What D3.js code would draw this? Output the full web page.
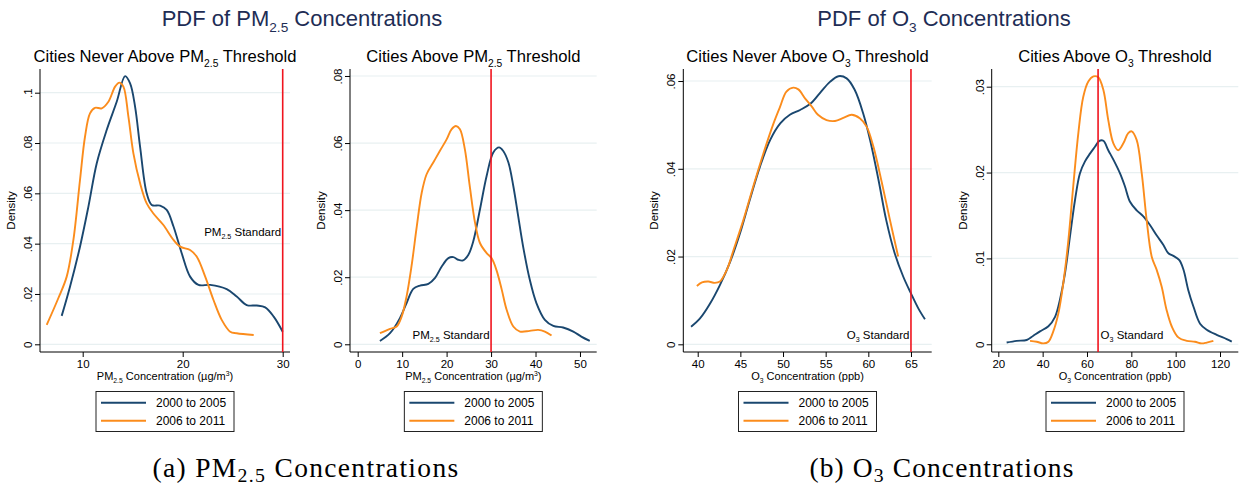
<!DOCTYPE html>
<html><head><meta charset="utf-8">
<script src="https://cdn.jsdelivr.net/npm/d3@7"></script>
<style>body{margin:0;background:#fff;} svg{display:block;}</style>
</head><body>
<svg id="c" width="1241" height="495"></svg>
<script>
// ---------- DATA ----------
const seriesNames = ["2000 to 2005", "2006 to 2011"];

// Panel 1: PM2.5, cities never above threshold
const pm_never_2000 = [[7.9,0.0113],[8.73,0.0229],[9.73,0.0388],[10.57,0.0547],[11.4,0.0719],[12.4,0.0852],[13.4,0.0964],[14.24,0.1066],[14.74,0.1037],[15.24,0.0944],[15.74,0.0785],[16.4,0.06],[16.9,0.0554],[17.74,0.0551],[18.4,0.0534],[19.08,0.0468],[19.9,0.0362],[20.74,0.0269],[21.58,0.0236],[22.75,0.0236],[24.4,0.0219],[25.4,0.019],[26.4,0.0156],[27.4,0.0154],[28.25,0.0147],[29.1,0.011],[30.0,0.005]];
const pm_never_2006 = [[6.4,0.0077],[7.56,0.0183],[8.4,0.0269],[9.07,0.0415],[9.73,0.0653],[10.23,0.0825],[10.73,0.0918],[11.23,0.094],[11.9,0.0938],[12.57,0.0964],[13.24,0.1024],[13.67,0.104],[14.07,0.1024],[14.57,0.0905],[15.07,0.0759],[15.74,0.064],[16.4,0.056],[17.07,0.052],[18.07,0.0474],[19.08,0.0415],[19.74,0.0388],[20.74,0.0375],[21.41,0.0348],[22.25,0.0269],[23.08,0.0176],[23.9,0.0097],[24.75,0.005],[25.4,0.0044],[27.1,0.0037]];

// Panel 2: PM2.5, cities above threshold
const pm_above_2000 = [[5.0,0.001],[7.27,0.0033],[9.5,0.0078],[11.0,0.0123],[12.5,0.0165],[14.0,0.0175],[15.9,0.018],[17.4,0.0198],[18.9,0.0232],[20.4,0.0257],[21.5,0.026],[22.6,0.0252],[23.7,0.025],[24.9,0.0267],[26.0,0.0307],[27.5,0.0402],[29.0,0.0502],[30.5,0.0572],[31.8,0.0587],[32.7,0.0577],[33.9,0.0542],[35.0,0.0472],[36.1,0.0382],[37.2,0.0292],[38.7,0.0193],[40.2,0.0123],[42.1,0.0073],[44.0,0.0055],[46.2,0.005],[48.5,0.0038],[50.3,0.0023],[52.2,0.001]];
const pm_above_2006 = [[5.0,0.0033],[7.27,0.0046],[8.76,0.0053],[9.9,0.0083],[11.0,0.0143],[12.1,0.0232],[13.3,0.0352],[14.4,0.0452],[15.5,0.0507],[17.0,0.0542],[18.5,0.0577],[20.0,0.0611],[21.1,0.0641],[22.1,0.0651],[23.0,0.0641],[24.1,0.0582],[25.2,0.0472],[26.4,0.0362],[27.5,0.0302],[29.0,0.0272],[30.1,0.0257],[31.2,0.0222],[32.4,0.0163],[33.5,0.0103],[35.0,0.0053],[36.5,0.0038],[38.7,0.004],[40.6,0.0043],[42.1,0.0038],[43.6,0.0026]];

// Panel 3: O3, cities never above threshold
const o3_never_2000 = [[39.22,0.004],[40.27,0.0059],[41.45,0.0093],[42.6,0.0135],[43.8,0.0188],[44.96,0.0253],[46.1,0.0329],[47.3,0.0405],[48.5,0.0466],[49.7,0.0504],[50.8,0.0523],[52.0,0.0534],[53.2,0.0548],[54.3,0.0572],[55.5,0.0598],[56.5,0.0611],[57.46,0.0606],[58.4,0.058],[59.4,0.0526],[60.2,0.0466],[61.2,0.0374],[62.1,0.0283],[63.1,0.0207],[64.1,0.0154],[65.0,0.0116],[65.86,0.0082],[66.64,0.0057]];
const o3_never_2006 = [[39.9,0.0133],[40.5,0.0141],[41.25,0.0143],[42.0,0.014],[42.6,0.0143],[43.4,0.0169],[44.2,0.0215],[45.35,0.0283],[46.5,0.0359],[47.7,0.0435],[48.9,0.0504],[49.65,0.0541],[50.4,0.0576],[51.2,0.0585],[51.8,0.0581],[52.6,0.056],[53.4,0.0541],[54.1,0.0523],[55.1,0.0511],[56.1,0.0509],[57.07,0.0516],[58.05,0.0523],[59.0,0.0515],[59.8,0.0496],[60.6,0.045],[61.6,0.0367],[62.54,0.0283],[63.5,0.02]];

// Panel 4: O3, cities above threshold
const o3_above_2000 = [[23.76,0.0002],[28.3,0.0004],[32.8,0.0005],[35.8,0.001],[38.8,0.0015],[42.6,0.0021],[45.6,0.0032],[47.8,0.0052],[50.1,0.0083],[52.3,0.0125],[54.6,0.0168],[56.8,0.0199],[59.1,0.0213],[61.35,0.0222],[63.6,0.023],[65.6,0.0237],[67.4,0.0237],[69.6,0.0226],[71.9,0.0215],[74.9,0.0199],[77.1,0.0184],[79.4,0.0166],[82.4,0.0156],[85.4,0.0149],[88.4,0.0139],[91.4,0.0127],[94.4,0.0116],[96.7,0.0106],[98.95,0.0103],[101.65,0.0098],[103.5,0.0087],[105.7,0.0063],[108.0,0.0044],[111.0,0.0024],[114.0,0.0017],[118.5,0.0011],[123.0,0.0006],[125.3,0.0003]];
const o3_above_2006 = [[34.3,0.0004],[37.3,0.0003],[40.3,0.0001],[42.6,0.0003],[44.8,0.0015],[47.1,0.0036],[49.3,0.0071],[51.6,0.0121],[53.8,0.0184],[56.1,0.0246],[58.3,0.0288],[60.6,0.0306],[62.9,0.0312],[65.1,0.0311],[67.4,0.0296],[69.6,0.0261],[71.9,0.0234],[74.1,0.0226],[76.4,0.0234],[78.6,0.0246],[80.15,0.0248],[82.4,0.0238],[84.7,0.0199],[86.9,0.0145],[89.2,0.0102],[91.4,0.0087],[93.7,0.0067],[95.9,0.004],[98.2,0.0021],[101.2,0.0008],[105.0,0.0004],[108.7,0.0003],[111.7,0.0001],[114.0,0.0002],[117.0,0.0004]];

// Tick values / labels
const p1XTicks = [10, 20, 30];
const p1YTicks = [0, 0.02, 0.04, 0.06, 0.08, 0.1];
const p1YLabels = ["0", ".02", ".04", ".06", ".08", ".1"];
const p2XTicks = [0, 10, 20, 30, 40, 50];
const p2YTicks = [0, 0.02, 0.04, 0.06, 0.08];
const p2YLabels = ["0", ".02", ".04", ".06", ".08"];
const p3XTicks = [40, 45, 50, 55, 60, 65];
const p3YTicks = [0, 0.02, 0.04, 0.06];
const p3YLabels = ["0", ".02", ".04", ".06"];
const p4XTicks = [20, 40, 60, 80, 100, 120];
const p4YTicks = [0, 0.01, 0.02, 0.03];
const p4YLabels = ["0", ".01", ".02", ".03"];

const pmStandard = 30;
const o3Standard = 65;

// ---------- STYLE ----------
const COL_A = "#1a476f";
const COL_B = "#fb8c1c";
const COL_RED = "#f0141e";
const COL_TITLE = "#1e2d55";
const COL_GRID = "#e8f0f1";
const SANS = "'Liberation Sans', Arial, Helvetica, sans-serif";
const SERIF = "'Liberation Serif', 'Times New Roman', serif";

const svg = d3.select("#c");

function rich(sel, parts, fs) {
  let shift = 0;
  parts.forEach(p => {
    const target = p.sub ? fs * 0.28 : p.sup ? -fs * 0.38 : 0;
    const ts = sel.append("tspan").attr("dy", target - shift).text(p.t);
    if (p.sub || p.sup) ts.attr("font-size", fs * 0.62);
    shift = target;
  });
  return sel;
}

const PM = [{t:"PM"},{t:"2.5",sub:true}];
const O3 = [{t:"O"},{t:"3",sub:true}];

const panels = [
  { x0: 40, x1: 290, xd: [5.73, 30.73], yd: [-0.00306, 0.10942],
    xt: p1XTicks, yt: p1YTicks, yl: p1YLabels, s1: pm_never_2000, s2: pm_never_2006,
    title: [{t:"Cities Never Above "}, ...PM, {t:" Threshold"}],
    xlab: [...PM, {t:" Concentration (µg/m"}, {t:"3",sup:true}, {t:")"}],
    std: pmStandard, stdLab: [...PM, {t:" Standard"}], stdSide: "left", stdY: 236 },
  { x0: 350, x1: 596.7, xd: [-1.73, 53.76], yd: [-0.0023, 0.08208],
    xt: p2XTicks, yt: p2YTicks, yl: p2YLabels, s1: pm_above_2000, s2: pm_above_2006,
    title: [{t:"Cities Above "}, ...PM, {t:" Threshold"}],
    xlab: [...PM, {t:" Concentration (µg/m"}, {t:"3",sup:true}, {t:")"}],
    std: pmStandard, stdLab: [...PM, {t:" Standard"}], stdSide: "left", stdY: 339 },
  { x0: 683.3, x1: 931.7, xd: [38.31, 67.43], yd: [-0.00175, 0.06274],
    xt: p3XTicks, yt: p3YTicks, yl: p3YLabels, s1: o3_never_2000, s2: o3_never_2006,
    title: [{t:"Cities Never Above "}, ...O3, {t:" Threshold"}],
    xlab: [...O3, {t:" Concentration (ppb)"}],
    std: o3Standard, stdLab: [...O3, {t:" Standard"}], stdSide: "left", stdY: 339 },
  { x0: 991.7, x1: 1238.3, xd: [17.02, 128.25], yd: [-0.0009, 0.03206],
    xt: p4XTicks, yt: p4YTicks, yl: p4YLabels, s1: o3_above_2000, s2: o3_above_2006,
    title: [{t:"Cities Above "}, ...O3, {t:" Threshold"}],
    xlab: [...O3, {t:" Concentration (ppb)"}],
    std: o3Standard, stdLab: [...O3, {t:" Standard"}], stdSide: "right", stdY: 339 }
];

const yTop = 69, yBot = 352;

panels.forEach(p => {
  const g = svg.append("g");
  const x = d3.scaleLinear().domain(p.xd).range([p.x0, p.x1]);
  const y = d3.scaleLinear().domain(p.yd).range([yBot, yTop]);
  const cx = (p.x0 + p.x1) / 2;

  // grid
  g.selectAll(".grid").data(p.yt).join("line")
    .attr("x1", p.x0).attr("x2", p.x1)
    .attr("y1", d => y(d)).attr("y2", d => y(d))
    .attr("stroke", COL_GRID).attr("stroke-width", 1.2);

  // axes
  const ax = g.append("g").attr("transform", `translate(0,${yBot})`)
    .call(d3.axisBottom(x).tickValues(p.xt).tickSize(5).tickPadding(3).tickFormat(d3.format("d")));
  ax.select(".domain").attr("d", `M${p.x0},0H${p.x1}`);
  const ay = g.append("g").attr("transform", `translate(${p.x0},0)`)
    .call(d3.axisLeft(y).tickValues(p.yt).tickSize(5).tickFormat((d, i) => p.yl[i]));
  ay.select(".domain").attr("d", `M0,${yTop}V${yBot}`);
  [ax, ay].forEach(a => {
    a.selectAll("path,line").attr("stroke", "#000").attr("stroke-width", 1);
    a.selectAll("text").attr("font-family", SANS).attr("font-size", 11.5).attr("fill", "#000");
  });
  ay.selectAll(".tick text")
    .attr("x", null).attr("dy", null)
    .attr("text-anchor", "middle")
    .attr("transform", "translate(-12,0) rotate(-90)")
    .attr("dominant-baseline", "central");

  // y label
  g.append("text").attr("font-family", SANS).attr("font-size", 11.5)
    .attr("text-anchor", "middle")
    .attr("transform", `translate(${p.x0 - 25},${(yTop + yBot) / 2}) rotate(-90)`)
    .text("Density");

  // x label
  rich(g.append("text").attr("font-family", SANS).attr("font-size", 11)
    .attr("text-anchor", "middle").attr("x", cx).attr("y", 380), p.xlab, 11);

  // title
  rich(g.append("text").attr("font-family", SANS).attr("font-size", 16.6)
    .attr("text-anchor", "middle").attr("x", cx).attr("y", 62), p.title, 16.6);

  // curves
  const line = d3.line().x(d => x(d[0])).y(d => y(d[1])).curve(d3.curveCatmullRom.alpha(0.5));
  g.append("path").datum(p.s1).attr("d", line).attr("fill", "none")
    .attr("stroke", COL_A).attr("stroke-width", 1.9);
  g.append("path").datum(p.s2).attr("d", line).attr("fill", "none")
    .attr("stroke", COL_B).attr("stroke-width", 1.9);

  // standard line
  g.append("line").attr("x1", x(p.std)).attr("x2", x(p.std))
    .attr("y1", yTop).attr("y2", yBot)
    .attr("stroke", COL_RED).attr("stroke-width", 1.6);
  const st = g.append("text").attr("font-family", SANS).attr("font-size", 11.5)
    .attr("y", p.stdY)
    .attr("x", p.stdSide === "left" ? x(p.std) - 1.5 : x(p.std) + 2.5)
    .attr("text-anchor", p.stdSide === "left" ? "end" : "start");
  rich(st, p.stdLab, 11.5);

  // legend
  const lg = g.append("g");
  lg.append("rect").attr("x", cx - 69).attr("y", 391.5).attr("width", 138).attr("height", 40)
    .attr("fill", "#fff").attr("stroke", "#222").attr("stroke-width", 1);
  [COL_A, COL_B].forEach((c, i) => {
    const yy = 402.7 + i * 18;
    lg.append("line").attr("x1", cx - 64).attr("x2", cx - 19).attr("y1", yy).attr("y2", yy)
      .attr("stroke", c).attr("stroke-width", 1.9);
    lg.append("text").attr("x", cx - 9).attr("y", yy).attr("dominant-baseline", "central")
      .attr("font-family", SANS).attr("font-size", 12).text(seriesNames[i]);
  });
});

// main titles
rich(svg.append("text").attr("font-family", SANS).attr("font-size", 22).attr("fill", COL_TITLE)
  .attr("text-anchor", "middle").attr("x", 302).attr("y", 26),
  [{t:"PDF of "}, ...PM, {t:" Concentrations"}], 22);
rich(svg.append("text").attr("font-family", SANS).attr("font-size", 22).attr("fill", COL_TITLE)
  .attr("text-anchor", "middle").attr("x", 944).attr("y", 26),
  [{t:"PDF of "}, ...O3, {t:" Concentrations"}], 22);

// captions
function caption(cx, parts, w) {
  const fs = 27.5;
  const t = svg.append("text").attr("font-family", SERIF).attr("font-size", fs)
    .attr("text-anchor", "middle").attr("x", cx).attr("y", 477);
  let shift = 0;
  parts.forEach(p => {
    const target = p.sub ? 5 : 0;
    const ts = t.append("tspan").attr("dy", target - shift).text(p.t);
    if (p.sub) ts.attr("font-size", fs * 0.72);
    shift = target;
  });
  const len = t.node().getComputedTextLength();
  const n = t.text().length;
  if (len > 0 && len < w) t.attr("letter-spacing", (w - len) / Math.max(1, n));
}
caption(306, [{t:"(a) PM"},{t:"2.5",sub:true},{t:" Concentrations"}], 307);
caption(942, [{t:"(b) O"},{t:"3",sub:true},{t:" Concentrations"}], 265);
</script>
</body></html>
